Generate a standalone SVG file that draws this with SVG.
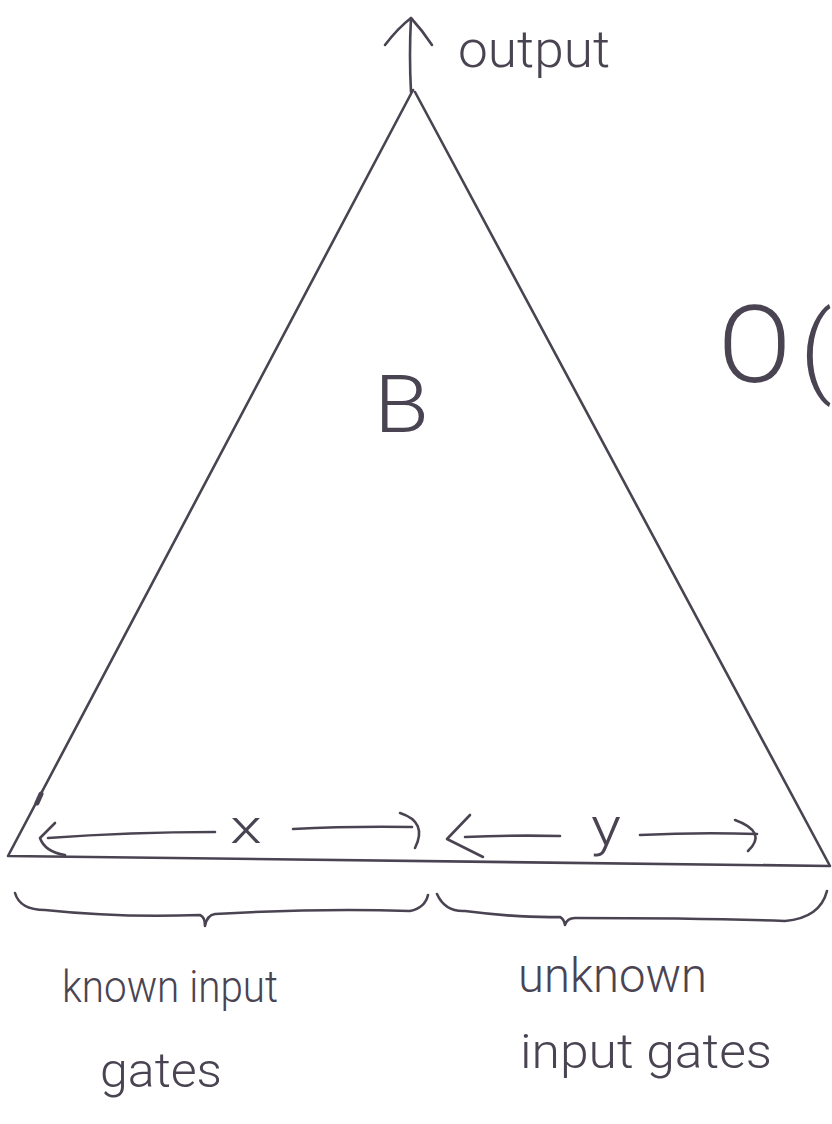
<svg xmlns="http://www.w3.org/2000/svg" width="832" height="1124" viewBox="0 0 832 1124">
<style>
.ink{fill:none;stroke:#4a4452;stroke-width:2.6;stroke-linecap:round;stroke-linejoin:round}
.t{fill:#4a4452;font-family:Roboto,"Liberation Sans",sans-serif;font-weight:300}
</style>
<rect width="832" height="1124" fill="#ffffff"/>
<g id="node-B">
<path class="ink" d="M413,90 L8,856 Q420,861 830,866 L415,92"/>
<path d="M41,794 L37,803" stroke="#4a4452" stroke-width="5" stroke-linecap="round"/>
<text class="t" x="374" y="432" font-size="80" textLength="55" lengthAdjust="spacingAndGlyphs">B</text>
</g>
<g id="connectors">
<g id="output-arrow">
<path class="ink" d="M411,92 Q409,55 411,18"/>
<path class="ink" d="M385,45 Q398,28 411,18 Q422,30 432,45"/>
</g>
<g id="x-arrow">
<path class="ink" d="M55,823 L40,838 Q45,852 65,855"/>
<path class="ink" d="M48,838 Q130,832 215,832"/>
<path class="ink" d="M293,829 Q350,826 412,827"/>
<path class="ink" d="M400,813 Q428,822 415,848"/>
</g>
<g id="y-arrow">
<path class="ink" d="M470,815 L447,839 L483,857"/>
<path class="ink" d="M465,837 Q510,835 560,836"/>
<path class="ink" d="M640,835 Q700,832 757,834"/>
<path class="ink" d="M735,820 Q768,832 748,851"/>
</g>
<g id="brace-known">
<path class="ink" d="M15,893 Q20,910 45,910 Q120,918 200,915 Q205,917 205,926 Q207,915 215,914 Q320,908 410,911 Q425,908 428,895"/>
</g>
<g id="brace-unknown">
<path class="ink" d="M437,894 Q445,912 465,911 Q520,918 560,917 Q564,919 565,925 Q567,918 575,918 Q700,918 785,921 Q820,918 827,891"/>
</g>
</g>
<g id="label-x"><text class="t" x="230" y="843" font-size="46" textLength="32" lengthAdjust="spacingAndGlyphs">x</text></g>
<g id="label-y"><text class="t" x="591" y="845" font-size="54" textLength="30" lengthAdjust="spacingAndGlyphs">y</text></g>
<g id="label-output"><text class="t" x="458" y="67" font-size="52" textLength="152" lengthAdjust="spacingAndGlyphs">output</text></g>
<g id="label-known">
<text class="t" x="62" y="1002" font-size="44" textLength="216" lengthAdjust="spacingAndGlyphs">known input</text>
<text class="t" x="100" y="1087" font-size="48" textLength="122" lengthAdjust="spacingAndGlyphs">gates</text>
</g>
<g id="label-unknown">
<text class="t" x="518" y="992" font-size="48" textLength="189" lengthAdjust="spacingAndGlyphs">unknown</text>
<text class="t" x="520" y="1068" font-size="48" textLength="252" lengthAdjust="spacingAndGlyphs">input gates</text>
</g>
<g id="label-O">
<text class="t" x="718" y="382" font-size="108">O<tspan x="800" y="384" font-size="100">(</tspan></text>
</g>
</svg>
